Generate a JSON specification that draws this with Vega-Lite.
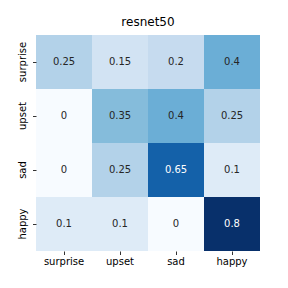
{
  "$schema": "https://vega.github.io/schema/vega-lite/v6.json",
  "autosize": "none",
  "padding": {"left": 36, "top": 35, "right": 28, "bottom": 37},
  "width": 224,
  "height": 216,
  "background": "white",
  "title": {"text": "resnet50", "font": "DejaVu Sans", "fontSize": 12, "fontWeight": "normal", "color": "black", "offset": 6},
  "config": {"view": {"stroke": null}, "font": "DejaVu Sans"},
  "data": {"values": [
    {"actual": "surprise", "pred": "surprise", "v": 0.25},
    {"actual": "surprise", "pred": "upset", "v": 0.15},
    {"actual": "surprise", "pred": "sad", "v": 0.2},
    {"actual": "surprise", "pred": "happy", "v": 0.4},
    {"actual": "upset", "pred": "surprise", "v": 0},
    {"actual": "upset", "pred": "upset", "v": 0.35},
    {"actual": "upset", "pred": "sad", "v": 0.4},
    {"actual": "upset", "pred": "happy", "v": 0.25},
    {"actual": "sad", "pred": "surprise", "v": 0},
    {"actual": "sad", "pred": "upset", "v": 0.25},
    {"actual": "sad", "pred": "sad", "v": 0.65},
    {"actual": "sad", "pred": "happy", "v": 0.1},
    {"actual": "happy", "pred": "surprise", "v": 0.1},
    {"actual": "happy", "pred": "upset", "v": 0.1},
    {"actual": "happy", "pred": "sad", "v": 0},
    {"actual": "happy", "pred": "happy", "v": 0.8}
  ]},
  "encoding": {
    "x": {"field": "pred", "type": "nominal", "sort": ["surprise", "upset", "sad", "happy"],
      "scale": {"paddingInner": 0, "paddingOuter": 0},
      "axis": {"title": null, "labelAngle": 0, "labelFontSize": 10, "labelColor": "black", "domain": false, "tickSize": 3.5, "tickColor": "#333", "labelPadding": 2}},
    "y": {"field": "actual", "type": "nominal", "sort": ["surprise", "upset", "sad", "happy"],
      "scale": {"paddingInner": 0, "paddingOuter": 0},
      "axis": {"title": null, "labelAngle": -90, "labelAlign": "center", "labelBaseline": "bottom", "labelFontSize": 10, "labelColor": "black", "domain": false, "tickSize": 3.5, "tickColor": "#333", "labelPadding": 5}}
  },
  "layer": [
    {"mark": {"type": "rect", "strokeWidth": 0},
      "encoding": {"color": {"field": "v", "type": "quantitative", "legend": null,
        "scale": {"domain": [0, 0.1, 0.2, 0.3, 0.4, 0.5, 0.6, 0.7, 0.8],
          "range": ["#f7fbff", "#deebf7", "#c6dbef", "#9ecae1", "#6baed6", "#4292c6", "#2171b5", "#08519c", "#08306b"]}}}},
    {"mark": {"type": "text", "fontSize": 10},
      "encoding": {"text": {"field": "v", "type": "quantitative"},
        "color": {"condition": {"test": "datum.v > 0.5", "value": "white"}, "value": "#262626"}}}
  ]
}
